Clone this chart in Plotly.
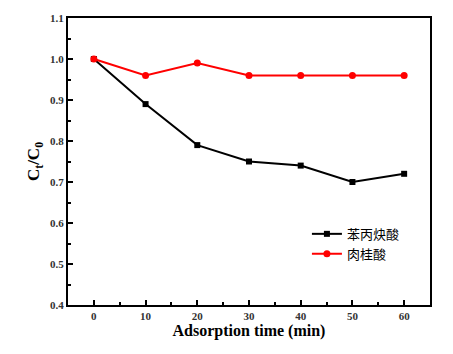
import plotly.graph_objects as go

time = [0, 10, 20, 30, 40, 50, 60]
phenylpropiolic = [1.00, 0.89, 0.79, 0.75, 0.74, 0.70, 0.72]
cinnamic = [1.00, 0.96, 0.99, 0.96, 0.96, 0.96, 0.96]
names = ["苯丙炔酸", "肉桂酸"]
x_ticks = [0, 10, 20, 30, 40, 50, 60]
y_ticks = [0.4, 0.5, 0.6, 0.7, 0.8, 0.9, 1.0, 1.1]

fig = go.Figure()
fig.add_trace(go.Scatter(x=time, y=phenylpropiolic, mode="lines+markers", name=names[0],
                         line=dict(color="black", width=2),
                         marker=dict(symbol="square", size=6, color="black")))
fig.add_trace(go.Scatter(x=time, y=cinnamic, mode="lines+markers", name=names[1],
                         line=dict(color="#ff0000", width=2),
                         marker=dict(symbol="circle", size=7, color="#ff0000")))

tickfont = dict(family="Liberation Serif", size=11, color="#333", weight="bold")
fig.update_layout(
    width=453, height=354,
    margin=dict(l=68, r=23, t=14, b=49),
    plot_bgcolor="white", paper_bgcolor="white",
    legend=dict(x=0.66, y=0.30, xanchor="left", yanchor="top",
                font=dict(family="Noto Sans CJK SC", size=13, color="black"),
                bgcolor="rgba(0,0,0,0)", tracegroupgap=0, itemwidth=30),
    xaxis=dict(range=[-5, 65], tickvals=x_ticks, ticks="inside", ticklen=5, tickwidth=1.5,
               tickcolor="black", showgrid=False, zeroline=False,
               showline=True, linecolor="black", linewidth=2, mirror=True,
               tickfont=tickfont,
               minor=dict(dtick=5, ticks="inside", ticklen=3, tickcolor="black", tickwidth=1.5),
               title=dict(text="<b>Adsorption time (min)</b>", standoff=4,
                          font=dict(family="Liberation Serif", size=16, color="black"))),
    yaxis=dict(range=[0.4, 1.1], tickvals=y_ticks, tickformat=".1f", ticks="inside", ticklen=5,
               tickwidth=1.5, tickcolor="black", showgrid=False, zeroline=False,
               showline=True, linecolor="black", linewidth=2, mirror=True,
               tickfont=tickfont,
               minor=dict(dtick=0.05, ticks="inside", ticklen=3, tickcolor="black", tickwidth=1.5),
               title=dict(text="<b>C<sub>t</sub>/C<sub>0</sub></b>", standoff=6,
                          font=dict(family="Liberation Serif", size=17, color="black"))),
)
fig.write_html("out.html")
